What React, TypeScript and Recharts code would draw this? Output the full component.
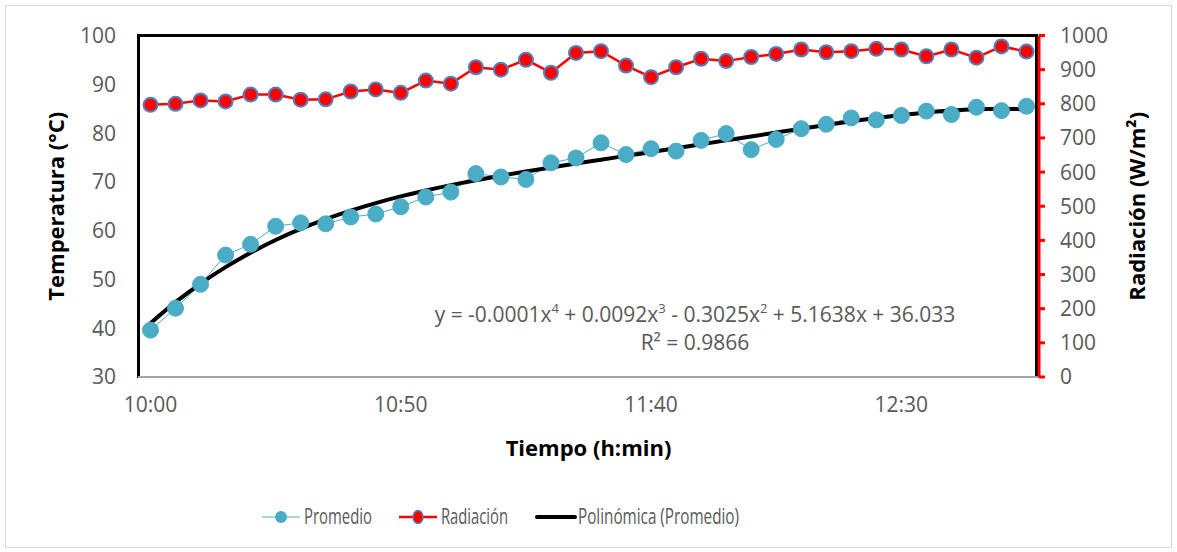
import React from 'react';
import { ComposedChart, Line, XAxis, YAxis, Legend } from 'recharts';

// Sampling times (every 5 minutes)
const times = [
  '10:00', '10:05', '10:10', '10:15', '10:20', '10:25', '10:30', '10:35', '10:40', '10:45',
  '10:50', '10:55', '11:00', '11:05', '11:10', '11:15', '11:20', '11:25', '11:30', '11:35',
  '11:40', '11:45', '11:50', '11:55', '12:00', '12:05', '12:10', '12:15', '12:20', '12:25',
  '12:30', '12:35', '12:40', '12:45', '12:50', '12:55',
];

// Average temperature (°C)
const promedio = [
  39.6, 44.1, 49.0, 55.0, 57.2, 60.9, 61.6, 61.4, 62.8, 63.4,
  64.9, 66.9, 67.9, 71.7, 71.0, 70.5, 73.9, 74.9, 78.0, 75.6,
  76.8, 76.3, 78.5, 79.9, 76.6, 78.7, 80.9, 81.8, 83.1, 82.7,
  83.6, 84.5, 83.8, 85.3, 84.6, 85.5,
];

// Solar radiation (W/m²)
const radiacion = [
  797, 800, 810, 807, 827, 827, 812, 813, 836, 842,
  832, 868, 859, 907, 900, 929, 891, 949, 954, 912,
  878, 907, 932, 925, 937, 946, 959, 951, 954, 961,
  959, 939, 959, 935, 968, 953,
];

const tempTicks = [30, 40, 50, 60, 70, 80, 90, 100];
const radTicks = [0, 100, 200, 300, 400, 500, 600, 700, 800, 900, 1000];

// Least-squares polynomial trendline (x = 1..n, as a spreadsheet trendline does)
function polyTrend(ys: number[], degree: number): number[] {
  const n = ys.length;
  const mid = (n + 1) / 2;
  const half = (n - 1) / 2;
  const xs = ys.map((_, i) => (i + 1 - mid) / half);
  const m = degree + 1;
  const A: number[][] = Array.from({ length: m }, () => new Array(m + 1).fill(0));
  for (let k = 0; k < n; k++) {
    const p: number[] = [];
    for (let j = 0; j < m; j++) p[j] = Math.pow(xs[k], j);
    for (let r = 0; r < m; r++) {
      for (let c = 0; c < m; c++) A[r][c] += p[r] * p[c];
      A[r][m] += p[r] * ys[k];
    }
  }
  for (let col = 0; col < m; col++) {
    let piv = col;
    for (let r = col + 1; r < m; r++) if (Math.abs(A[r][col]) > Math.abs(A[piv][col])) piv = r;
    [A[col], A[piv]] = [A[piv], A[col]];
    for (let r = 0; r < m; r++) {
      if (r === col) continue;
      const f = A[r][col] / A[col][col];
      for (let c = col; c <= m; c++) A[r][c] -= f * A[col][c];
    }
  }
  const coef = A.map((row, i) => row[m] / row[i]);
  return xs.map((x) => coef.reduce((s, c, j) => s + c * Math.pow(x, j), 0));
}

const trend = polyTrend(promedio, 4);

const rows = times.map((time, i) => ({
  time,
  promedio: promedio[i],
  radiacion: radiacion[i],
  tendencia: trend[i],
}));

const GREY = '#595959';
const BLUE = '#4bacc6';
const RED = '#ff0000';

// Legend entries: swatch start and condensed text width
const legendItems = [
  { key: 'p', label: 'Promedio', x: 262, textWidth: 68 },
  { key: 'r', label: 'Radiación', x: 399, textWidth: 67 },
  { key: 't', label: 'Polinómica (Promedio)', x: 536, textWidth: 161 },
];

function Swatch({ kind, x }: { kind: string; x: number }) {
  const cy = 14;
  if (kind === 'p') {
    return (
      <g>
        <line x1={x} y1={cy} x2={x + 38} y2={cy} stroke={BLUE} strokeWidth={1} />
        <circle cx={x + 19} cy={cy} r={6} fill={BLUE} />
      </g>
    );
  }
  if (kind === 'r') {
    return (
      <g>
        <line x1={x} y1={cy} x2={x + 38} y2={cy} stroke={RED} strokeWidth={2.5} />
        <ellipse cx={x + 19} cy={cy} rx={5} ry={6.5} fill={RED} stroke="#4f81bd" strokeWidth={1.5} />
      </g>
    );
  }
  return <line x1={x + 1} y1={cy} x2={x + 39} y2={cy} stroke="#000" strokeWidth={4} strokeLinecap="round" />;
}

function renderLegend() {
  return (
    <svg width={1177} height={30} style={{ display: 'block', overflow: 'visible' }}>
      {legendItems.map((it) => (
        <g key={it.key}>
          <Swatch kind={it.key} x={it.x} />
          <text
            x={it.x + 42}
            y={21}
            fontSize={21}
            fill={GREY}
            textLength={it.textWidth}
            lengthAdjust="spacingAndGlyphs"
          >
            {it.label}
          </text>
        </g>
      ))}
    </svg>
  );
}

function XTitle(props: any) {
  const vb = props.viewBox || {};
  return (
    <text
      x={vb.x + vb.width / 2}
      y={vb.y + 70}
      textAnchor="middle"
      dominantBaseline="central"
      fontSize={22}
      fontWeight="bold"
      fill="#000"
    >
      Tiempo (h:min)
    </text>
  );
}

export default function App() {
  return (
    <div
      style={{
        position: 'fixed',
        left: 0,
        top: 0,
        width: 1177,
        height: 552,
        background: '#fff',
        fontFamily: "'Open Sans', sans-serif",
      }}
    >
      {/* chart area frame */}
      <div
        style={{
          position: 'absolute',
          left: 5,
          top: 5,
          width: 1167,
          height: 543,
          border: '1px solid #d9d9d9',
          boxSizing: 'border-box',
        }}
      />
      {/* plot area frame */}
      <div
        style={{
          position: 'absolute',
          left: 136.5,
          top: 33.5,
          width: 901,
          height: 344,
          borderTop: '3px solid #000',
          borderLeft: '3px solid #000',
          borderRight: '3px solid #000',
          boxSizing: 'border-box',
        }}
      />
      {/* trendline equation */}
      <div
        style={{
          position: 'absolute',
          left: 400,
          top: 300,
          width: 590,
          textAlign: 'center',
          fontSize: 21,
          lineHeight: '28px',
          color: GREY,
        }}
      >
        <div>
          y = -0.0001x<sup style={{ fontSize: 13, verticalAlign: 'top', lineHeight: '16px' }}>4</sup> + 0.0092x
          <sup style={{ fontSize: 13, verticalAlign: 'top', lineHeight: '16px' }}>3</sup> - 0.3025x
          <sup style={{ fontSize: 13, verticalAlign: 'top', lineHeight: '16px' }}>2</sup> + 5.1638x + 36.033
        </div>
        <div>R² = 0.9866</div>
      </div>
      <ComposedChart
        width={1177}
        height={552}
        data={rows}
        margin={{ top: 35.5, right: 0, bottom: 0, left: 0 }}
        style={{ position: 'absolute', left: 0, top: 0 }}
      >
        <XAxis
          dataKey="time"
          height={175}
          interval={9}
          tickLine={false}
          tickSize={0}
          tickMargin={20}
          axisLine={{ stroke: '#a6a6a6', strokeWidth: 2 }}
          padding={{ left: 12.5, right: 12.5 }}
          tick={{ fill: GREY, fontSize: 21 }}
          label={<XTitle />}
        />
        <YAxis
          yAxisId="t"
          domain={[30, 100]}
          ticks={tempTicks}
          width={138}
          tickLine={false}
          tickSize={0}
          tickMargin={22}
          axisLine={false}
          tick={{ fill: GREY, fontSize: 21 }}
          label={{
            value: 'Temperatura (°C)',
            angle: -90,
            position: 'insideLeft',
            offset: 56,
            style: { textAnchor: 'middle', fontSize: 22, fontWeight: 'bold', fill: '#000' },
          }}
        />
        <YAxis
          yAxisId="r"
          orientation="right"
          domain={[0, 1000]}
          ticks={radTicks}
          width={138}
          tickSize={6}
          tickMargin={15}
          tickLine={{ stroke: RED, strokeWidth: 3 }}
          axisLine={{ stroke: RED, strokeWidth: 3 }}
          tick={{ fill: GREY, fontSize: 21 }}
          label={{
            value: 'Radiación (W/m²)',
            angle: -90,
            position: 'insideRight',
            offset: 40,
            style: { textAnchor: 'middle', fontSize: 22, fontWeight: 'bold', fill: '#000' },
          }}
        />
        <Line
          yAxisId="t"
          dataKey="promedio"
          type="linear"
          stroke={BLUE}
          strokeWidth={1}
          dot={{ r: 8, fill: BLUE, stroke: BLUE, strokeWidth: 1 }}
          activeDot={false}
          isAnimationActive={false}
        />
        <Line
          yAxisId="r"
          dataKey="radiacion"
          type="linear"
          stroke={RED}
          strokeWidth={2.5}
          dot={{ r: 7, fill: RED, stroke: '#4f81bd', strokeWidth: 2 }}
          activeDot={false}
          isAnimationActive={false}
        />
        <Line
          yAxisId="t"
          dataKey="tendencia"
          type="monotone"
          stroke="#000"
          strokeWidth={4}
          dot={false}
          activeDot={false}
          isAnimationActive={false}
        />
        <Legend
          layout="horizontal"
          verticalAlign="middle"
          align="center"
          wrapperStyle={{ top: 503, left: 0, width: 1177 }}
          content={renderLegend}
        />
      </ComposedChart>
    </div>
  );
}
